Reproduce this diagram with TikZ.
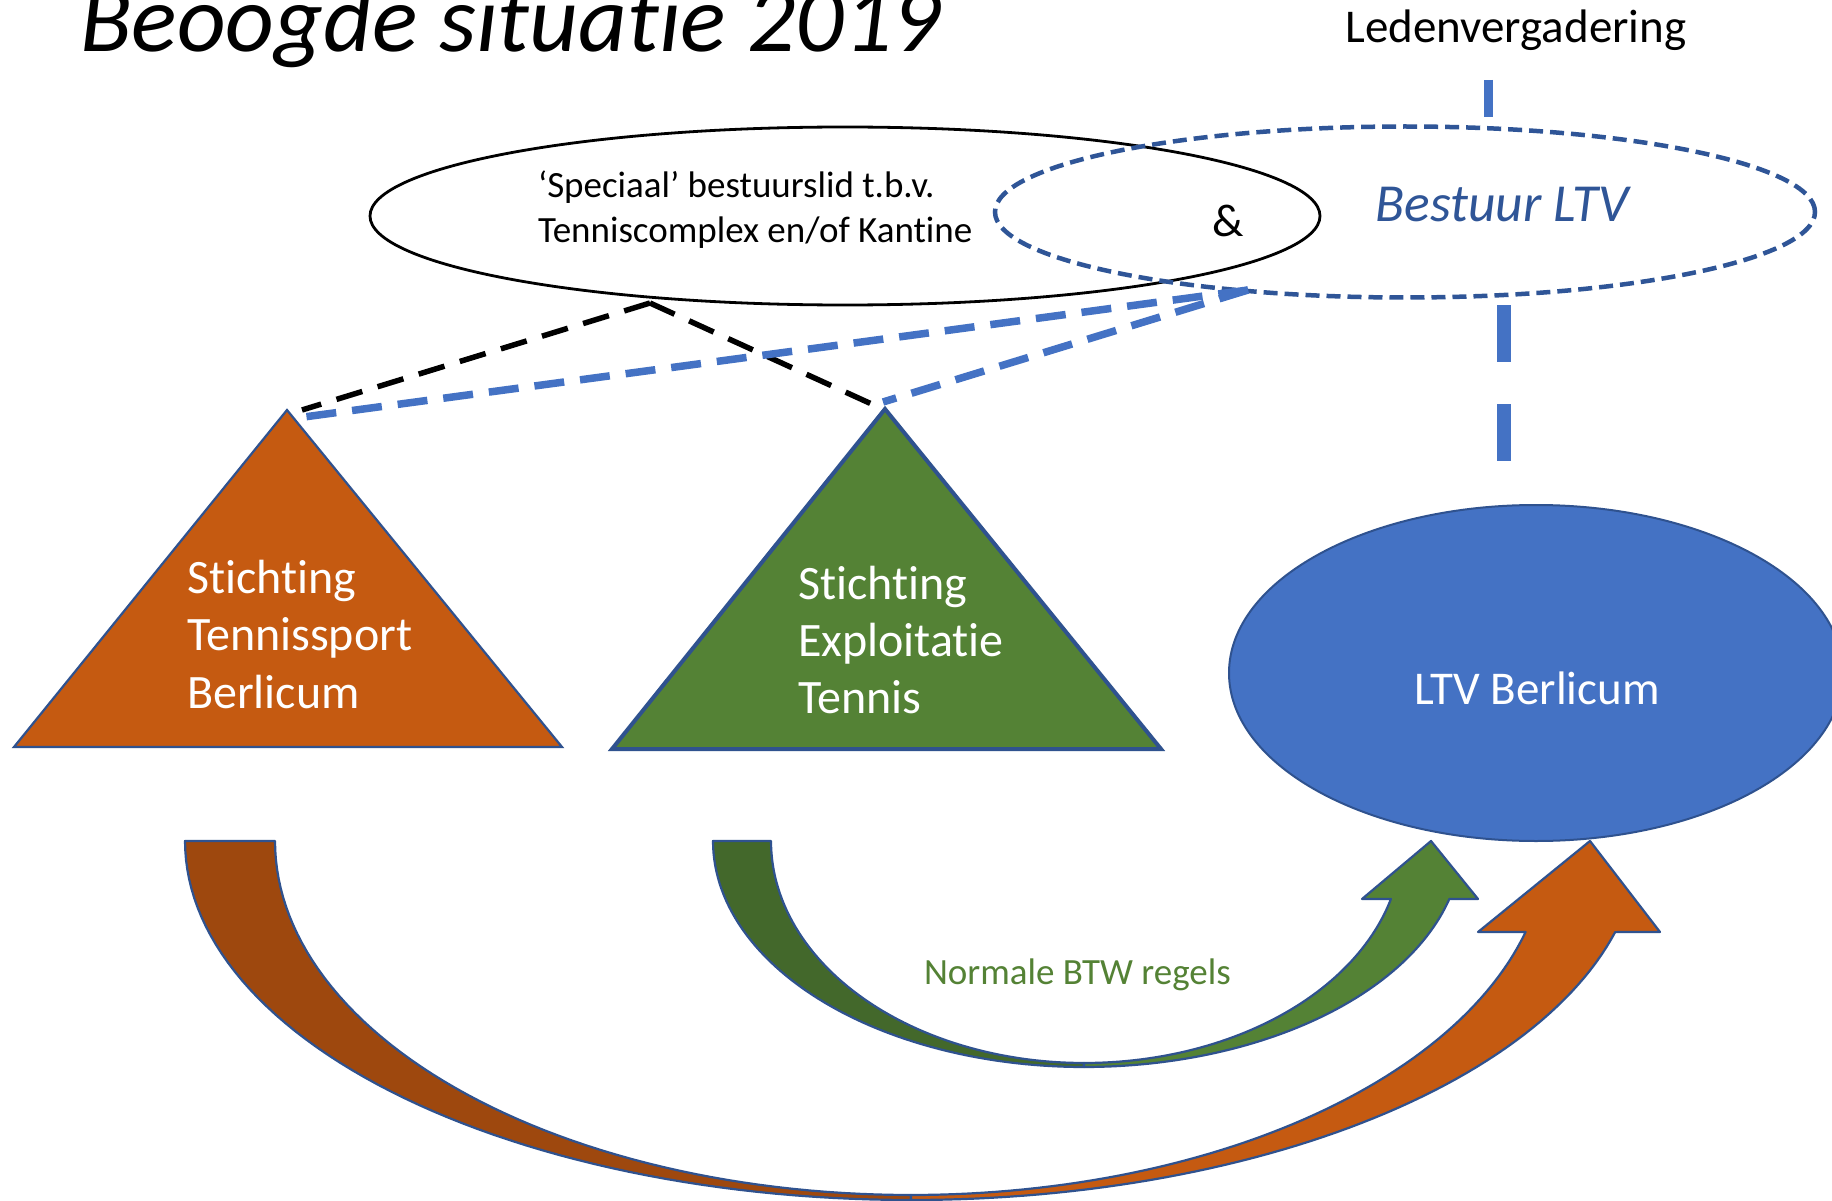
\documentclass[tikz,border=0pt]{standalone}
\usepackage{fontspec}
\setmainfont{Carlito}[Ligatures={CommonOff,ContextualOff}]
\usetikzlibrary{shapes.geometric}
\definecolor{orangelight}{HTML}{C55A11}
\definecolor{orangedark}{HTML}{9E480E}
\definecolor{greenlight}{HTML}{548235}
\definecolor{greendark}{HTML}{43682B}
\definecolor{ltvblue}{HTML}{4472C4}
\definecolor{outblue}{HTML}{2F528F}
\definecolor{bestblue}{HTML}{2F5597}
\newcommand\fsz[2]{\fontsize{#1}{#2}\selectfont}
\begin{document}
\begin{tikzpicture}[x=1pt,y=-1pt,
  lbl/.style={inner sep=0pt, outer sep=0pt},
  tritext/.style={lbl, anchor=base west, text=white, font=\fsz{48}{57}},
  blackdash/.style={line width=5.5pt, black, dash pattern=on 27pt off 16pt},
  bluedash/.style={line width=7.5pt, ltvblue, dash pattern=on 30pt off 16pt},
  arrowpart/.style={draw=outblue, line width=2.2pt, line join=round},
  tri/.style={draw=outblue, line join=miter}]
\useasboundingbox (0,0) rectangle (1832,1201);
\fill[white] (0,0) rectangle (1832,1201);
\clip (0,0) rectangle (1832,1201);

% title and top label
\node[lbl, anchor=base west, font=\fsz{95}{110}\itshape] (title) at (80,52) {Beoogde situatie 2019};
\node[lbl, anchor=base, font=\fsz{47}{56}] (leden) at (1516,43) {Ledenvergadering};

% ellipses at the top
\node[ellipse, draw=black, line width=2.8pt, minimum width=950pt, minimum height=178pt, inner sep=0pt] (sp) at (845,216) {};
\node[ellipse, draw=bestblue, line width=4.5pt, dash pattern=on 14pt off 7pt, minimum width=820pt, minimum height=171pt, inner sep=0pt] (best) at (1405,212) {};
\node[lbl, anchor=base west, font=\fsz{37}{45}] (sp1) at (538,198) {‘Speciaal’ bestuurslid t.b.v.};
\node[lbl, anchor=base west, font=\fsz{37}{45}] (sp2) at (538,243) {Tenniscomplex en/of Kantine};
\node[lbl, anchor=base, font=\fsz{46}{55}] (amp) at (1228,237) {\&};
\node[lbl, anchor=base, font=\fsz{53.5}{60}\itshape, text=bestblue] (besttext) at (1502,222) {Bestuur LTV};

% coordinates
\coordinate (ledtop) at (1488,80);
\coordinate (bestbot) at (1504,305);
\coordinate (spb) at (650,303);
\coordinate (bestjoin) at (1248,290);
\coordinate (stbblk) at (302,410);
\coordinate (stbblu) at (289,419);
\coordinate (setblk) at (876,406);
\coordinate (setblu) at (883,402);

% vertical connectors
\draw[ltvblue, line width=9pt, dash pattern=on 37pt off 40pt] (ledtop) -- (ledtop |- best.north);

% LTV ellipse (connector drawn first)
\draw[ltvblue, line width=14pt, dash pattern=on 57pt off 42pt] (bestbot) -- (1504,498);
\node[ellipse, fill=ltvblue, draw=outblue, line width=2pt, minimum width=614pt, minimum height=336pt, inner sep=0pt] (ltv) at (1536,673) {};
\node[lbl, anchor=base, text=white, font=\fsz{47}{55}] (ltvtext) at (1537,704) {LTV Berlicum};

% dashed connectors
\draw[blackdash] (spb) -- (stbblk);
\draw[blackdash] (spb) -- (setblk);
\draw[bluedash] (bestjoin) -- (stbblu);
\draw[bluedash] (bestjoin) -- (setblu);

% triangles
\draw[tri, fill=orangelight, line width=2.2pt] (287,410) -- (562,747) -- (14,747) -- cycle;
\draw[tri, fill=greenlight, line width=4pt] (885,409) -- (1161,749) -- (612,749) -- cycle;
\node[tritext] (stb1) at (187,593) {Stichting};
\node[tritext] (stb2) at (187,650) {Tennissport};
\node[tritext] (stb3) at (187,708) {Berlicum};
\node[tritext] (set1) at (798,599) {Stichting};
\node[tritext] (set2) at (798,656) {Exploitatie};
\node[tritext] (set3) at (798,713) {Tennis};

% orange curved arrow
\filldraw[arrowpart, fill=orangedark]
  plot[domain=180:90, samples=60] ({911+726*cos(\x)},{841+359*sin(\x)})
  -- plot[domain=90:180, samples=60] ({911+636*cos(\x)},{841+354*sin(\x)}) -- cycle;
\filldraw[arrowpart, fill=orangelight]
  plot[domain=90:14.7, samples=60] ({911+728*cos(\x)},{841+359*sin(\x)})
  -- (1660,932) -- (1590,841) -- (1478,932)
  -- plot[domain=14.9:90, samples=60] ({911+636*cos(\x)},{841+354*sin(\x)}) -- cycle;

% green curved arrow
\filldraw[arrowpart, fill=greendark]
  plot[domain=180:90, samples=60] ({1084+371*cos(\x)},{841+226*sin(\x)})
  -- plot[domain=90:180, samples=60] ({1084+313*cos(\x)},{841+222*sin(\x)}) -- cycle;
\filldraw[arrowpart, fill=greenlight]
  plot[domain=90:14.87, samples=60] ({1084+378*cos(\x)},{841+226*sin(\x)})
  -- (1478,899) -- (1431,841) -- (1362,899)
  -- plot[domain=15.15:90, samples=60] ({1084+318*cos(\x)},{841+222*sin(\x)}) -- cycle;

\node[lbl, anchor=base west, text=greenlight, font=\fsz{37}{44}] (btw) at (924,984) {Normale BTW regels};
\end{tikzpicture}
\end{document}
